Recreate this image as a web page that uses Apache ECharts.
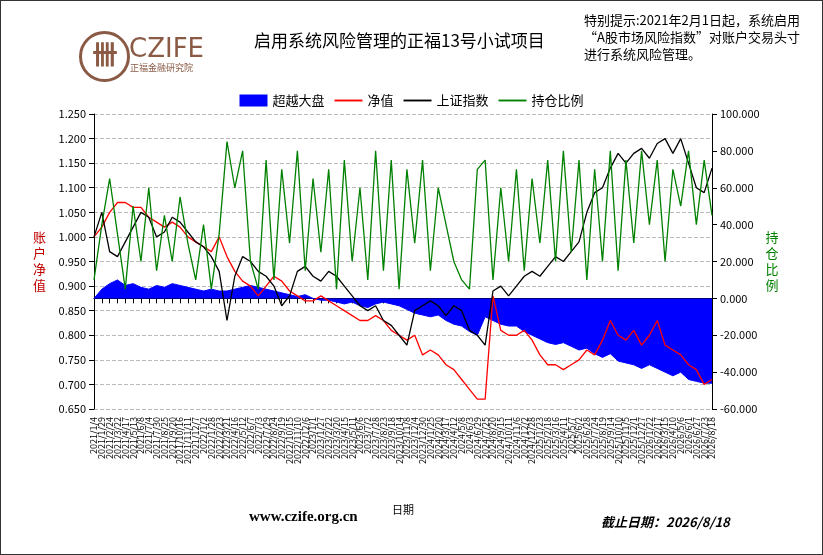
<!DOCTYPE html>
<html>
<head>
<meta charset="utf-8">
<script src="https://cdn.jsdelivr.net/npm/echarts@6/dist/echarts.min.js"></script>
<style>
html,body{margin:0;padding:0;background:#fff;}
#main{width:821px;height:553px;border:1px solid #333;}
</style>
</head>
<body>
<div id="main"></div>
<script>
// 日期轴（约每26天一个点）
const dates = [];
(function () {
  const start = new Date(2021, 0, 4).getTime();
  const end = new Date(2026, 7, 18).getTime();
  for (let i = 0; i < 80; i++) {
    const d = new Date(start + (end - start) * i / 79);
    dates.push(d.getFullYear() + '/' + (d.getMonth() + 1) + '/' + d.getDate());
  }
})();

// 超越大盘（右轴）
const excess = [0,5,8,10,7,8,6,5,7,6, 8,7,6,5,4,5,4,4,5,6, 7,6,5,4,3,2,1,2,0,-1,
  -1,-2,-3,-2,-4,-5,-3,-2,-3,-4, -6,-8,-9,-10,-9,-12,-14,-15,-18,-20,
  -10,-12,-14,-15,-15,-18,-20,-22,-24,-25, -24,-26,-28,-27,-30,-32,-30,-34,-35,-36,
  -38,-36,-38,-40,-42,-40,-44,-45,-46,-46];
// 净值
const nav = [1.00,1.02,1.05,1.07,1.07,1.06,1.06,1.04,1.03,1.02, 1.03,1.02,1.00,0.99,0.98,0.97,1.00,0.96,0.93,0.91,
  0.90,0.88,0.90,0.92,0.91,0.89,0.88,0.87,0.87,0.88, 0.87,0.86,0.85,0.84,0.83,0.83,0.84,0.83,0.81,0.80,
  0.79,0.80,0.76,0.77,0.76,0.74,0.73,0.71,0.69,0.67, 0.67,0.88,0.81,0.80,0.80,0.81,0.79,0.76,0.74,0.74,
  0.73,0.74,0.75,0.77,0.76,0.79,0.83,0.80,0.79,0.81, 0.78,0.80,0.83,0.78,0.77,0.76,0.74,0.73,0.70,0.71];
// 上证指数（归一）
const sh = [1.00,1.05,0.97,0.96,0.99,1.02,1.05,1.04,1.00,1.01, 1.04,1.03,1.01,0.99,0.98,0.96,0.93,0.83,0.92,0.96,
  0.95,0.93,0.92,0.90,0.86,0.88,0.93,0.94,0.92,0.91, 0.93,0.92,0.90,0.88,0.86,0.85,0.86,0.83,0.82,0.80,
  0.78,0.85,0.86,0.87,0.86,0.84,0.86,0.85,0.81,0.80, 0.78,0.89,0.90,0.88,0.90,0.92,0.93,0.92,0.94,0.96,
  0.95,0.97,0.99,1.05,1.09,1.10,1.14,1.17,1.15,1.17, 1.18,1.16,1.19,1.20,1.17,1.20,1.15,1.10,1.09,1.14];
// 持仓比例（右轴）
const position = [10,40,65,35,5,50,20,60,15,45, 20,55,30,10,40,5,35,85,60,80, 20,5,75,10,70,30,80,15,65,25,
  70,5,75,20,60,10,80,15,75,5, 70,30,75,15,60,40,20,10,5,70, 75,10,60,20,70,15,65,30,75,20,
  80,25,75,10,70,20,80,15,75,30, 80,40,75,20,70,50,80,40,75,45];

const leftTicks = { min: 0.65, max: 1.25, interval: 0.05 };
const rightTicks = { min: -60, max: 100, interval: 20 };

const lineIcon = 'path://M0,0 L30,0 L30,2 L0,2 Z';

const chart = echarts.init(document.getElementById('main'));
const font = 'SimSun, "Noto Sans CJK SC", sans-serif';
chart.setOption({
  animation: false,
  textStyle: { fontFamily: font },
  grid: { left: 93, right: 110, top: 113, bottom: 145 },
  legend: {
    top: 88, left: 'center', itemWidth: 28, itemHeight: 12, itemGap: 10,
    textStyle: { fontSize: 13, color: '#000' },
    data: [
      { name: '超越大盘', icon: 'rect' },
      { name: '净值', icon: lineIcon, itemHeight: 2 },
      { name: '上证指数', icon: lineIcon, itemHeight: 2 },
      { name: '持仓比例', icon: lineIcon, itemHeight: 2 }
    ]
  },
  xAxis: {
    type: 'category', data: dates, boundaryGap: false,
    name: '日期', nameLocation: 'middle', nameGap: 95,
    nameTextStyle: { fontSize: 11, color: '#000' },
    axisLine: { lineStyle: { color: '#000' } },
    axisTick: { interval: 0, lineStyle: { color: '#000' } },
    axisLabel: { interval: 0, rotate: 90, fontSize: 9, color: '#000' }
  },
  yAxis: [
    Object.assign({
      type: 'value', position: 'left',
      name: '账\n户\n净\n值', nameLocation: 'middle', nameGap: 48, nameRotate: 0,
      nameTextStyle: { color: '#c00000', fontSize: 13, lineHeight: 16 },
      axisLine: { show: true, lineStyle: { color: '#000' } },
      axisTick: { show: true },
      axisLabel: { fontSize: 11, color: '#000', formatter: v => v.toFixed(3) },
      splitLine: { lineStyle: { color: '#bbb', type: 'dashed' } }
    }, leftTicks),
    Object.assign({
      type: 'value', position: 'right',
      name: '持\n仓\n比\n例', nameLocation: 'middle', nameGap: 50, nameRotate: 0,
      nameTextStyle: { color: '#008000', fontSize: 13, lineHeight: 16 },
      axisLine: { show: true, lineStyle: { color: '#000' } },
      axisTick: { show: true },
      axisLabel: { fontSize: 11, color: '#000', formatter: v => v.toFixed(3) },
      splitLine: { show: false }
    }, rightTicks)
  ],
  series: [
    { name: '超越大盘', type: 'line', yAxisIndex: 1, data: excess, symbol: 'none',
      itemStyle: { color: '#0000ff' }, lineStyle: { color: '#0000ff', width: 1 },
      areaStyle: { color: '#0000ff', opacity: 1, origin: 0 } },
    { name: '净值', type: 'line', data: nav, symbol: 'none',
      itemStyle: { color: '#ff0000' }, lineStyle: { color: '#ff0000', width: 1.3 } },
    { name: '上证指数', type: 'line', data: sh, symbol: 'none',
      itemStyle: { color: '#000' }, lineStyle: { color: '#000', width: 1.3 } },
    { name: '持仓比例', type: 'line', yAxisIndex: 1, data: position, symbol: 'none',
      itemStyle: { color: '#008000' }, lineStyle: { color: '#008000', width: 1.3 } }
  ],
  graphic: [
    { type: 'circle', left: 77, top: 29, shape: { r: 24 },
      style: { fill: 'none', stroke: '#8b5a45', lineWidth: 3 } },
    { type: 'text', left: 91, top: 40, style: { text: '卌', font: 'bold 26px "Noto Sans CJK SC"', fill: '#8b5a45' } },
    { type: 'text', left: 128, top: 36, style: { text: 'CZIFE', font: '26px "DejaVu Sans"', fill: '#8b5a45' } },
    { type: 'text', left: 129, top: 62, style: { text: '正福金融研究院', font: '9px "Noto Sans CJK SC"', fill: '#8b5a45' } },
    { type: 'text', left: 253, top: 31, style: { text: '启用系统风险管理的正福13号小试项目', font: '17px ' + font, fill: '#000' } },
    { type: 'text', left: 583, top: 11, style: { text: '特别提示:2021年2月1日起，系统启用\n“A股市场风险指数”对账户交易头寸\n进行系统风险管理。', font: '13px ' + font, fill: '#000', lineHeight: 17 } },
    { type: 'text', left: 248, top: 509, style: { text: 'www.czife.org.cn', font: 'bold 15px "Liberation Serif"', fill: '#000' } },
    { type: 'text', left: 600, top: 515, style: { text: '截止日期：2026/8/18', font: 'italic bold 13px ' + font, fill: '#000' } }
  ]
});
</script>
</body>
</html>
